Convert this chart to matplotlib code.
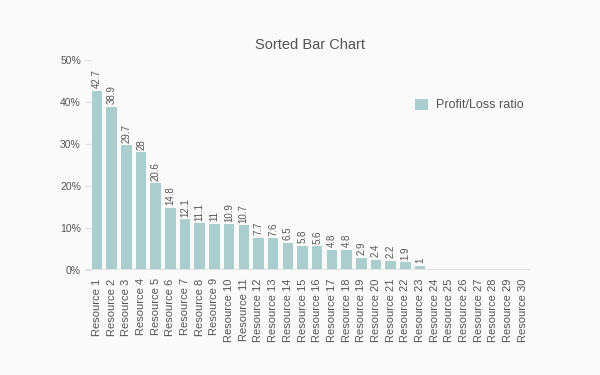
import numpy as np
import matplotlib.pyplot as plt

plt.rcParams['font.family'] = ['Liberation Sans', 'DejaVu Sans']

# data
resources = ['Resource %d' % i for i in range(1, 31)]
ratio = [42.7, 38.9, 29.7, 28, 20.6, 14.8, 12.1, 11.1, 11, 10.9, 10.7,
         7.7, 7.6, 6.5, 5.8, 5.6, 4.8, 4.8, 2.9, 2.4, 2.2, 1.9, 1,
         0, 0, 0, 0, 0, 0, 0]
y_ticks = [0, 10, 20, 30, 40, 50]

bar_color = '#abcdce'
text_color = '#555555'
bg = '#fafafa'

fig = plt.figure(figsize=(6, 3.75), dpi=100, facecolor=bg)
ax = fig.add_axes([85/600, 1 - 270/375, 445/600, 210/375], facecolor=bg)

x = np.arange(len(resources))
ax.bar(x, ratio, width=0.72, color=bar_color, zorder=2, label='Profit/Loss ratio')

# value labels on top of non-zero bars
for xi, v in zip(x, ratio):
    if v > 0:
        ax.text(xi, v + 0.6, '%g' % v, rotation=90, ha='center', va='bottom',
                fontsize=7, color=text_color)

ax.set_xlim(-0.82, 29.5)
ax.set_ylim(0, 50)
ax.set_yticks(y_ticks)
ax.set_yticklabels(['%d%%' % t for t in y_ticks])
ax.set_xticks(x)
ax.set_xticklabels(resources, rotation=90)

for s in ax.spines.values():
    s.set_visible(False)
ax.axhline(0, color='#e3e3e3', lw=2.2, zorder=3)

ax.tick_params(axis='y', length=4, width=1, color='#e3e3e3', labelsize=7.5,
               labelcolor=text_color, pad=3, direction='in')
ax.tick_params(axis='x', length=0, labelsize=8, labelcolor=text_color, pad=6)

fig.text(310/600, 1 - 45/375, 'Sorted Bar Chart', ha='center', va='center',
         fontsize=10.5, color=text_color)

ax.legend(loc='center left', bbox_to_anchor=(0.742, 0.786), frameon=False,
          borderpad=0, borderaxespad=0, fontsize=9, handlelength=1.0,
          handleheight=1.0, handletextpad=0.7, labelcolor=text_color)

fig.savefig('out.png', dpi=100, facecolor=bg)
